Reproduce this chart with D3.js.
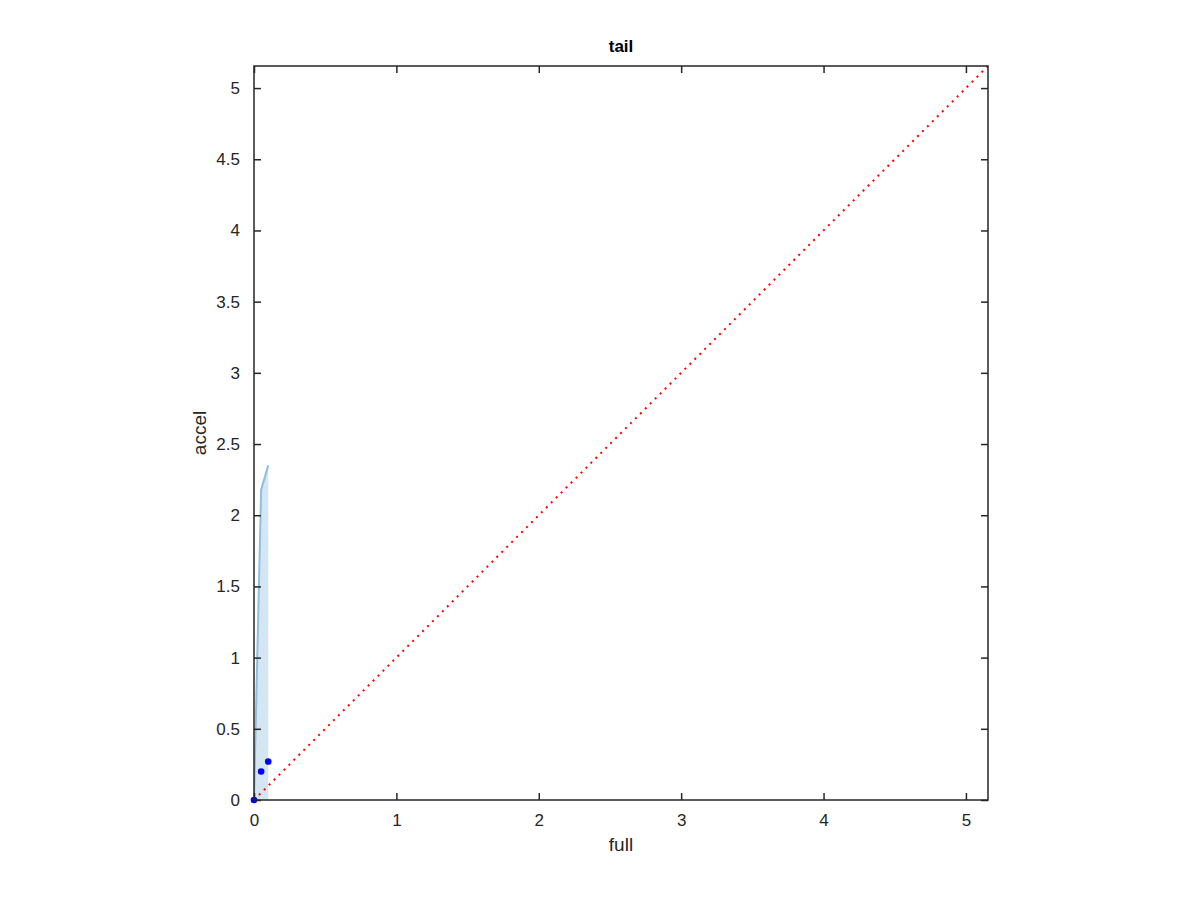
<!DOCTYPE html>
<html lang="en">
<head>
<meta charset="utf-8">
<title>tail</title>
<script src="https://cdn.jsdelivr.net/npm/d3@7"></script>
<style>
  html,body{margin:0;padding:0;background:#fff}
  svg text{font-family:"Liberation Sans",Helvetica,Arial,sans-serif;fill:#262626}
</style>
</head>
<body>
<div id="chart"></div>
<script>
// data
var xVals=[0,0.05,0.1];
var yVals=[0,0.2,0.27];
var bandUpper=[0,2.18,2.35];
var bandLower=[0,0,0];
var limMax=5.155;
var xTicks=[0,1,2,3,4,5];
var yTicks=[0,0.5,1,1.5,2,2.5,3,3.5,4,4.5,5];

var W=1200,H=900;
var margin={top:66,left:254};
var size=734;

var svg=d3.select("#chart").append("svg")
    .attr("width",W).attr("height",H);
var g=svg.append("g").attr("transform","translate("+margin.left+","+margin.top+")");

var xScale=d3.scaleLinear().domain([0,limMax]).range([0,size]);
var yScale=d3.scaleLinear().domain([0,limMax]).range([size,0]);

g.append("defs").append("clipPath").attr("id","clip")
    .append("rect").attr("width",size).attr("height",size);
var plot=g.append("g").attr("clip-path","url(#clip)");

// confidence band
var band=xVals.map(function(x,i){return {x:x,lo:bandLower[i],hi:bandUpper[i]};});
plot.append("path")
    .datum(band)
    .attr("fill","#d5e6f3")
    .attr("d",d3.area().x(function(d){return xScale(d.x)})
        .y0(function(d){return yScale(d.lo)})
        .y1(function(d){return yScale(d.hi)}));
plot.append("path")
    .datum(band)
    .attr("fill","none")
    .attr("stroke","#8dbfe2")
    .attr("stroke-width",2)
    .attr("d",d3.line().x(function(d){return xScale(d.x)}).y(function(d){return yScale(d.hi)}));

// identity line
plot.append("line")
    .attr("x1",xScale(0)).attr("y1",yScale(0))
    .attr("x2",xScale(limMax)).attr("y2",yScale(limMax))
    .attr("stroke","#ff0000")
    .attr("stroke-width",2)
    .attr("stroke-dasharray","2,5");

// points
g.selectAll(".pt").data(xVals).enter().append("circle")
    .attr("class","pt")
    .attr("cx",function(d){return xScale(d)})
    .attr("cy",function(d,i){return yScale(yVals[i])})
    .attr("r",3.3)
    .attr("fill","#0000ff");

// axes, ticks pointing inward on all sides
var axisColor="#262626";
function styleAxis(sel){
    sel.select(".domain").remove();
    sel.selectAll("line").attr("stroke",axisColor).attr("stroke-width",1.5);
    sel.selectAll("text").style("font-size","17px").attr("fill",axisColor);
}
g.append("g").attr("transform","translate(0,"+size+")")
    .call(d3.axisBottom(xScale).tickValues(xTicks).tickSizeInner(-7).tickPadding(14).tickFormat(d3.format("")))
    .call(styleAxis);
g.append("g")
    .call(d3.axisTop(xScale).tickValues(xTicks).tickSizeInner(-7).tickFormat(""))
    .call(styleAxis);
g.append("g")
    .call(d3.axisLeft(yScale).tickValues(yTicks).tickSizeInner(-7).tickPadding(14).tickFormat(d3.format("")))
    .call(styleAxis);
g.append("g").attr("transform","translate("+size+",0)")
    .call(d3.axisRight(yScale).tickValues(yTicks).tickSizeInner(-7).tickFormat(""))
    .call(styleAxis);

g.append("rect")
    .attr("width",size).attr("height",size)
    .attr("fill","none")
    .attr("stroke",axisColor)
    .attr("stroke-width",1.5);

// labels
g.append("text")
    .attr("x",size/2).attr("y",-14)
    .attr("text-anchor","middle")
    .style("font-size","17px").style("font-weight","bold")
    .attr("fill","#000").style("fill","#000")
    .text("tail");
g.append("text")
    .attr("x",size/2).attr("y",size+51)
    .attr("text-anchor","middle")
    .style("font-size","19px")
    .text("full");
g.append("text")
    .attr("transform","translate(-48,"+(size/2)+") rotate(-90)")
    .attr("text-anchor","middle")
    .style("font-size","19px")
    .text("accel");
</script>
</body>
</html>
